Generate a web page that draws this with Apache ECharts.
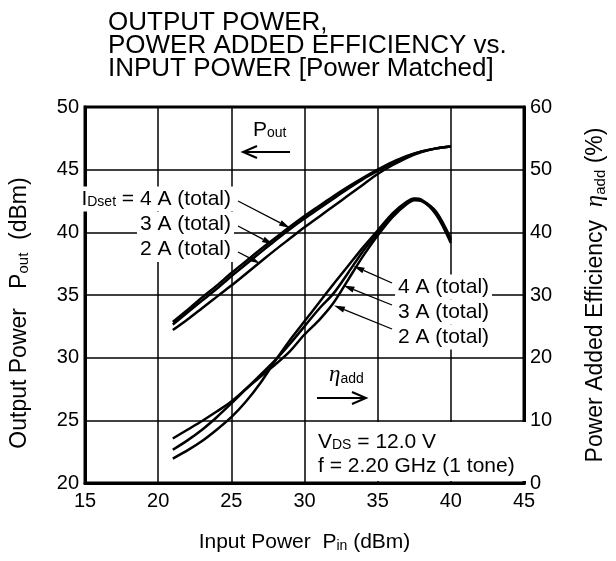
<!DOCTYPE html>
<html>
<head>
<meta charset="utf-8">
<script src="https://cdn.jsdelivr.net/npm/echarts@6/dist/echarts.min.js"></script>
<style>
  html, body { margin: 0; padding: 0; background: #fff; }
  #chart { width: 616px; height: 561px; }
</style>
</head>
<body>
<div id="chart"></div>
<script>
  // input power Pin (dBm) for the output power curves
  var pinPout = [21, 22, 23, 24, 25, 26, 27, 28, 29, 30, 31, 32, 33, 34, 35, 36, 37, 38, 39, 40];
  // output power Pout (dBm), IDset = 4 A / 3 A / 2 A
  var pout4A = [32.85, 33.8, 34.8, 35.75, 36.75, 37.7, 38.65, 39.55, 40.45, 41.3, 42.1, 42.9, 43.65, 44.35, 45.0, 45.6, 46.1, 46.45, 46.7, 46.85];
  var pout3A = [32.65, 33.6, 34.55, 35.5, 36.5, 37.45, 38.4, 39.35, 40.25, 41.1, 41.9, 42.7, 43.5, 44.25, 44.9, 45.5, 46.05, 46.45, 46.7, 46.85];
  var pout2A = [32.2, 33.05, 33.95, 34.85, 35.75, 36.7, 37.65, 38.6, 39.5, 40.4, 41.25, 42.1, 42.95, 43.8, 44.65, 45.35, 45.95, 46.4, 46.7, 46.85];

  // input power Pin (dBm) for the efficiency curves
  var pinEff = [21, 22, 23, 24, 25, 26, 27, 28, 29, 30, 31, 32, 33, 34, 35, 36, 37, 37.5, 38, 39, 40];
  // power added efficiency (%)
  var eff4A = [3.9, 5.2, 6.7, 8.5, 10.5, 13.0, 16.0, 19.5, 22.8, 25.8, 28.8, 31.8, 34.7, 37.6, 40.3, 43.0, 44.9, 45.4, 45.2, 43.3, 39.0];
  var eff3A = [5.3, 6.8, 8.5, 10.5, 12.7, 15.0, 17.3, 19.6, 22.2, 25.0, 27.8, 30.3, 33.6, 37.0, 39.9, 42.7, 44.7, 45.3, 45.1, 43.0, 38.7];
  var eff2A = [7.1, 8.5, 9.9, 11.4, 13.0, 15.0, 17.0, 18.9, 21.0, 23.7, 26.0, 28.8, 32.5, 36.2, 39.5, 42.4, 44.5, 45.1, 45.0, 42.8, 38.3];

  var F = "'Liberation Sans', Arial, Helvetica, sans-serif";
  var SERIF = "'Liberation Serif', 'DejaVu Serif', serif";

  function pairs(xs, ys) {
    return xs.map(function (x, i) { return [x, ys[i]]; });
  }

  function curve(name, xs, ys, axis) {
    return {
      name: name,
      type: 'line',
      yAxisIndex: axis,
      data: pairs(xs, ys),
      smooth: 0.3,
      showSymbol: false,
      lineStyle: { color: '#000', width: 2.5 },
      silent: true
    };
  }

  // small filled arrow used by the label pointers
  function pointer(x1, y1, x2, y2) {
    var a = Math.atan2(y2 - y1, x2 - x1);
    var L = 11, W = 3;
    var bx = x2 - L * Math.cos(a), by = y2 - L * Math.sin(a);
    var nx = -Math.sin(a), ny = Math.cos(a);
    return [
      { type: 'line', z: 100, shape: { x1: x1, y1: y1, x2: bx, y2: by }, style: { stroke: '#000', lineWidth: 1.3 } },
      { type: 'polygon', z: 100, shape: { points: [[x2, y2], [bx + nx * W, by + ny * W], [bx - nx * W, by - ny * W]] }, style: { fill: '#000' } }
    ];
  }

  // open arrow (Pout / ηadd direction marks)
  function openArrow(x1, x2, y) {
    var d = x2 > x1 ? -1 : 1;
    return [
      { type: 'line', z: 100, shape: { x1: x1, y1: y, x2: x2, y2: y }, style: { stroke: '#000', lineWidth: 2 } },
      { type: 'polyline', z: 100, shape: { points: [[x2 + d * 14, y - 6], [x2, y], [x2 + d * 14, y + 6]] }, style: { stroke: '#000', lineWidth: 2, fill: null } }
    ];
  }

  var sub = { fontSize: 14, fontFamily: F, verticalAlign: 'bottom', fill: '#000' };
  var main = { fontSize: 21, fontFamily: F, verticalAlign: 'bottom', fill: '#000' };

  function label(txt, x, y, align) {
    return {
      type: 'text', z: 100,
      style: {
        text: txt, x: x, y: y,
        align: align, textAlign: align, verticalAlign: 'middle', textVerticalAlign: 'middle',
        fontSize: 21, fontFamily: F, fill: '#000',
        backgroundColor: '#fff', padding: [2, 3],
        rich: { m: main, s: sub, eta: { fontSize: 23, fontFamily: SERIF, fontStyle: 'italic', verticalAlign: 'bottom', fill: '#000' } }
      }
    };
  }

  var graphics = [];
  // left legend for Pout
  graphics.push(label('{m|I}{s|Dset}{m| = 4 A (total)}', 234, 199, 'right'));
  graphics.push(label('{m|3 A (total)}', 234, 224.5, 'right'));
  graphics.push(label('{m|2 A (total)}', 234, 249.5, 'right'));
  graphics = graphics.concat(pointer(238, 201, 290, 228));
  graphics = graphics.concat(pointer(238, 226, 273, 244.5));
  graphics = graphics.concat(pointer(238, 252, 260, 263.5));
  // right legend for efficiency
  graphics.push(label('{m|4 A (total)}', 395, 287, 'left'));
  graphics.push(label('{m|3 A (total)}', 395, 312, 'left'));
  graphics.push(label('{m|2 A (total)}', 395, 337, 'left'));
  graphics = graphics.concat(pointer(392, 283, 353.5, 266));
  graphics = graphics.concat(pointer(392, 305, 343.5, 285.5));
  graphics = graphics.concat(pointer(392, 329, 334, 305.5));
  // direction marks
  graphics.push({ type: 'text', z: 100, style: { text: '{m|P}{s|out}', x: 253, y: 130, align: 'left', verticalAlign: 'middle', rich: { m: main, s: sub } } });
  graphics = graphics.concat(openArrow(290, 243, 152));
  graphics.push(label('{eta|η}{s|add}', 326, 375, 'left'));
  graphics = graphics.concat(openArrow(317, 366, 398));
  // condition box
  graphics.push({ type: 'rect', z: 99, shape: { x: 309, y: 422, width: 221, height: 59 }, style: { fill: '#fff' } });
  graphics.push({ type: 'text', z: 100, style: { text: '{m|V}{s|DS}{m| = 12.0 V}', x: 318, y: 442, align: 'left', verticalAlign: 'middle', rich: { m: main, s: sub } } });
  graphics.push({ type: 'text', z: 100, style: { text: 'f = 2.20 GHz (1 tone)', x: 318, y: 466, align: 'left', verticalAlign: 'middle', fontSize: 21, fontFamily: F, fill: '#000' } });

  var axisFont = { color: '#000', fontSize: 20, fontFamily: F };
  function nameStyle(size, pad) {
    return {
      color: '#000', fontSize: size, fontFamily: F, padding: pad,
      rich: {
        s: { fontSize: Math.round(size * 0.65), fontFamily: F, color: '#000', verticalAlign: 'bottom' },
        eta: { fontSize: size + 2, fontFamily: SERIF, fontStyle: 'italic', color: '#000', verticalAlign: 'bottom' }
      }
    };
  }

  var myChart = echarts.init(document.getElementById('chart'));
  myChart.setOption({
    animation: false,
    backgroundColor: '#fff',
    title: {
      text: 'OUTPUT POWER,\nPOWER ADDED EFFICIENCY vs.\nINPUT POWER [Power Matched]',
      left: 103,
      top: 6,
      textStyle: { fontFamily: F, fontSize: 26, fontWeight: 'normal', color: '#000', lineHeight: 23 }
    },
    grid: {
      left: 81, right: 84, top: 107, bottom: 78,
      show: true, borderColor: '#000', borderWidth: 3, backgroundColor: 'transparent'
    },
    xAxis: {
      type: 'value', min: 15, max: 45, interval: 5,
      axisLine: { show: true, onZero: false, lineStyle: { color: '#000', width: 3 } },
      axisTick: { show: false },
      axisLabel: Object.assign({ margin: 8 }, axisFont),
      splitLine: { show: true, lineStyle: { color: '#000', width: 1.5 } },
      name: 'Input Power  P{s|in} (dBm)',
      nameLocation: 'middle',
      nameGap: 49,
      nameTextStyle: nameStyle(21, 0)
    },
    yAxis: [
      {
        type: 'value', min: 20, max: 50, interval: 5, position: 'left',
        axisLine: { show: true, onZero: false, lineStyle: { color: '#000', width: 3 } },
        axisTick: { show: false },
        axisLabel: Object.assign({ margin: 6 }, axisFont),
        splitLine: { show: true, lineStyle: { color: '#000', width: 1.5 } },
        name: 'Output Power   P{s|out}  (dBm)',
        nameLocation: 'middle',
        nameGap: 54,
        nameTextStyle: nameStyle(23, [0, 36, 0, 0])
      },
      {
        type: 'value', min: 0, max: 60, interval: 10, position: 'right',
        axisLine: { show: true, onZero: false, lineStyle: { color: '#000', width: 3 } },
        axisTick: { show: false },
        axisLabel: Object.assign({ margin: 6 }, axisFont),
        splitLine: { show: false },
        name: 'Power Added Efficiency  {eta|η}{s|add} (%)',
        nameLocation: 'middle',
        nameGap: 59,
        nameTextStyle: nameStyle(23, 0)
      }
    ],
    series: [
      curve('Pout 4A', pinPout, pout4A, 0),
      curve('Pout 3A', pinPout, pout3A, 0),
      curve('Pout 2A', pinPout, pout2A, 0),
      curve('PAE 4A', pinEff, eff4A, 1),
      curve('PAE 3A', pinEff, eff3A, 1),
      curve('PAE 2A', pinEff, eff2A, 1)
    ],
    graphic: graphics
  });
</script>
</body>
</html>
